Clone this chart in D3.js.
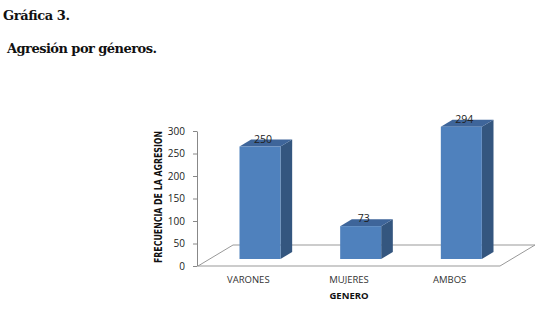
<!DOCTYPE html>
<meta charset="utf-8">
<head>
  <title>Agresion por generos</title>
</head>
<style>
body { margin: 0; background: #fff; }
.ttl { font-family: "DejaVu Serif", serif; font-weight: bold; fill: #111; }
.tick text { font-family: "Open Sans", "DejaVu Sans", sans-serif; font-size: 10px; fill: #222; }
.tick line, .domain { stroke: #888; }
</style>
<body>
<svg width="538" height="309"></svg>
<script src="https://cdnjs.cloudflare.com/ajax/libs/d3/7.8.5/d3.min.js"></script>
<script>
var categories = ["VARONES", "MUJERES", "AMBOS"];
var values = [250, 73, 294];
var yTicks = [0, 50, 100, 150, 200, 250, 300];

var svg = d3.select("svg");

svg.append("text").attr("class", "ttl").attr("x", 3).attr("y", 20)
  .attr("font-size", 13).attr("textLength", 67).text("Gráfica 3.");
svg.append("text").attr("class", "ttl").attr("x", 7).attr("y", 53)
  .attr("font-size", 13).attr("textLength", 150).text("Agresión por géneros.");

// front plane of the floor
var x = d3.scaleBand().domain(categories).range([198, 500]).paddingInner(0).paddingOuter(0);
var y = d3.scaleLinear().domain([0, 300]).range([266, 131]);

var depthX = 35, depthY = -21;   // full floor depth
var bx = depthX / 3, by = depthY / 3; // bar front sits 1/3 in
var barW = 41;

// floor
var floor = [
  [x.range()[0], y(0)], [x.range()[0] + depthX, y(0) + depthY],
  [x.range()[1] + depthX, y(0) + depthY], [x.range()[1], y(0)]
];
svg.append("path")
  .attr("d", d3.line()(floor) + "Z")
  .attr("fill", "none").attr("stroke", "#999").attr("stroke-width", 1);

// axis
svg.append("g").attr("transform", "translate(197,0)")
  .call(d3.axisLeft(y).tickValues(yTicks).tickSize(4).tickPadding(8).tickSizeOuter(0))
  .call(function(g){ g.select(".domain").attr("stroke", "#999"); });

// bars
var g = svg.append("g");
categories.forEach(function(c, i) {
  var cx = x(c) + x.bandwidth() / 2 + bx;
  var x0 = cx - barW / 2, x1 = cx + barW / 2;
  var yb = y(0) + by, yt = y(values[i]) + by;
  // side
  g.append("path").attr("fill", "#34567f")
    .attr("d", d3.line()([[x1, yb], [x1 + bx, yb + by], [x1 + bx, yt + by], [x1, yt]]) + "Z");
  // top
  g.append("path").attr("fill", "#3e659a")
    .attr("d", d3.line()([[x0, yt], [x0 + bx, yt + by], [x1 + bx, yt + by], [x1, yt]]) + "Z");
  // front
  g.append("rect").attr("x", x0).attr("y", yt).attr("width", barW).attr("height", yb - yt)
    .attr("fill", "#4f81bd");
  // value label
  g.append("text").attr("x", cx + 3).attr("y", yt - 4)
    .attr("text-anchor", "middle")
    .attr("font-family", "Open Sans, DejaVu Sans, sans-serif").attr("font-size", 10.5)
    .attr("fill", "#222").text(values[i]);
  // category label
  svg.append("text").attr("x", x(c) + x.bandwidth() / 2).attr("y", 283)
    .attr("text-anchor", "middle")
    .attr("font-family", "Open Sans, DejaVu Sans, sans-serif").attr("font-size", 9.5)
    .attr("fill", "#333").text(c);
});

svg.append("text").attr("x", 349).attr("y", 299).attr("text-anchor", "middle")
  .attr("font-family", "Open Sans, DejaVu Sans, sans-serif").attr("font-weight", "bold")
  .attr("font-size", 9.5).attr("fill", "#111").text("GENERO");

svg.append("text").attr("transform", "translate(162,197) rotate(-90)")
  .attr("text-anchor", "middle")
  .attr("font-family", "DejaVu Sans Condensed, Open Sans, sans-serif").attr("font-weight", "bold")
  .attr("font-size", 10).attr("textLength", 132).attr("lengthAdjust", "spacingAndGlyphs")
  .attr("fill", "#111").text("FRECUENCIA DE LA AGRESION");
</script>
</body>
</html>
